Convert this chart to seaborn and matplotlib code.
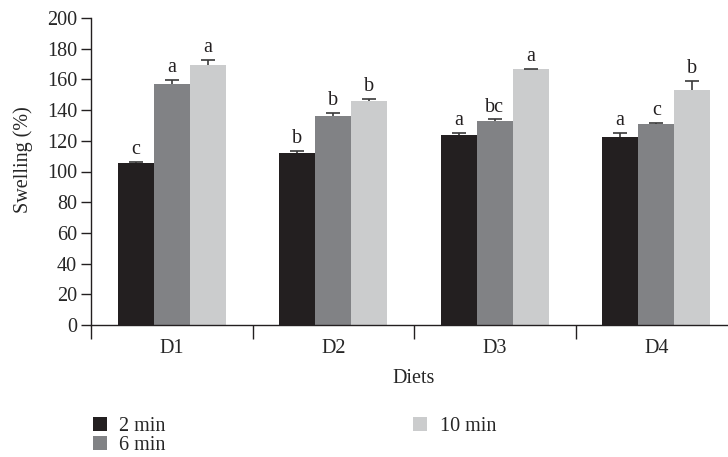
import matplotlib

matplotlib.use("Agg")

import matplotlib.pyplot as plt  # noqa: E402
import numpy as np  # noqa: E402
import pandas as pd  # noqa: E402
import seaborn as sns  # noqa: E402

# Data
diets = ["D1", "D2", "D3", "D4"]
times = ["2 min", "6 min", "10 min"]
swell_2min = [105.6, 112.1, 123.9, 122.6]
swell_6min = [156.7, 136.4, 133.1, 131.1]
swell_10min = [169.2, 146.2, 166.6, 152.8]
err_2min = [0.5, 1.1, 1.5, 2.8]
err_6min = [3.0, 1.8, 0.9, 0.5]
err_10min = [3.3, 0.9, 0.4, 6.1]
letters_2min = ["c", "b", "a", "a"]
letters_6min = ["a", "b", "bc", "c"]
letters_10min = ["a", "b", "a", "b"]

colors = ["#231f20", "#818285", "#cbcccd"]

df = pd.DataFrame({
    "diet": diets * 3,
    "time": np.repeat(times, len(diets)),
    "swelling": swell_2min + swell_6min + swell_10min,
})
errs = [err_2min, err_6min, err_10min]
letters = [letters_2min, letters_6min, letters_10min]

FS = 14.5

sns.set_theme(style="ticks")
plt.rcParams["font.family"] = ["Liberation Serif", "DejaVu Serif"]
plt.rcParams["font.size"] = FS

fig = plt.figure(figsize=(7.28, 4.57), dpi=100)
ax = fig.add_axes([91 / 728, 132 / 457, 646 / 728, 307 / 457])

sns.barplot(
    data=df, x="diet", y="swelling", hue="time", order=diets, hue_order=times,
    palette=colors, errorbar=None, width=0.67, saturation=1, ax=ax,
    linewidth=0, legend=True,
)

# Upward-only error bars and significance letters
for container, err, labs in zip(ax.containers, errs, letters):
    xs = [p.get_x() + p.get_width() / 2 for p in container.patches]
    hs = [p.get_height() for p in container.patches]
    _, caps, _ = ax.errorbar(xs, hs, yerr=[np.zeros(len(err)), err],
                             fmt="none", ecolor="#3a3a3a", elinewidth=1.2,
                             capsize=5, capthick=1.2)
    caps[0].remove()  # keep only the upper cap
    for x, h, e, lab in zip(xs, hs, err, labs):
        ax.annotate(lab, (x, h + e), xytext=(0, 2), textcoords="offset points",
                    ha="center", va="bottom", fontsize=FS, color="#231f20")

ax.set_ylim(0, 200)
ax.set_xlim(-0.5, 3.5)
ax.set_yticks(range(0, 201, 20))
ax.set_xticks(range(len(diets)))
ax.set_xticklabels(diets)
ax.set_xticks(np.arange(-0.5, 3.6, 1.0), minor=True)
ax.tick_params(axis="x", which="major", length=0, pad=10, labelsize=FS)
ax.tick_params(axis="x", which="minor", length=10, width=1, color="#231f20")
ax.tick_params(axis="y", length=7, width=1, color="#231f20", labelsize=FS,
               pad=3)
ax.set_xlabel("Diets", fontsize=FS, labelpad=8)
ax.set_ylabel("Swelling (%)", fontsize=FS)
ax.yaxis.set_label_coords(-0.09, 0.54)
sns.despine(ax=ax)
for sp in ("left", "bottom"):
    ax.spines[sp].set_linewidth(1)
    ax.spines[sp].set_color("#231f20")

handles, labels_ = ax.get_legend_handles_labels()
ax.get_legend().remove()
fig.legend(handles, labels_, ncol=2, loc="upper left",
           bbox_to_anchor=(75 / 728, 1 - 399 / 457), frameon=False,
           fontsize=FS, handlelength=0.7, handleheight=0.7,
           handletextpad=0.6, columnspacing=12.3, labelspacing=-0.02)

fig.savefig("out.png", dpi=100)
